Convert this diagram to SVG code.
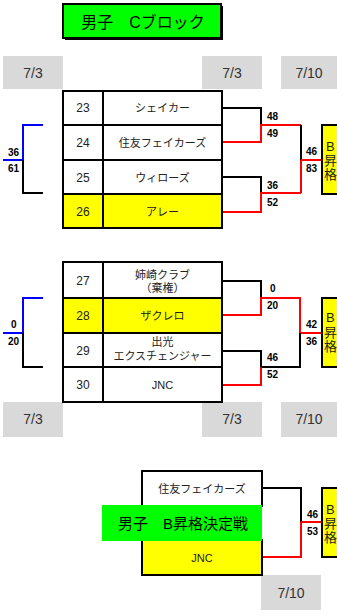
<svg xmlns="http://www.w3.org/2000/svg" width="337" height="616" viewBox="0 0 337 616">
<style>
.cell{fill:#fff;stroke:#000;stroke-width:2}
.win{fill:#ffff00;stroke:#000;stroke-width:2}
.date{fill:#d9d9d9}
.dt{font-family:"Liberation Sans",Arial,sans-serif;font-size:14px;fill:#333;text-anchor:middle}
.num{font-family:"Liberation Sans",Arial,sans-serif;font-size:12px;fill:#222;text-anchor:middle}
.nm{font-family:"Liberation Sans","Noto Sans CJK JP",sans-serif;font-size:11px;fill:#222;text-anchor:middle}
.sc{font-family:"Liberation Sans",Arial,sans-serif;font-size:10px;font-weight:bold;fill:#000}
.bt{font-family:"Liberation Sans","Noto Sans CJK JP",sans-serif;font-size:13px;fill:#222}
.k{fill:none;stroke:#000;stroke-width:2}
.r{fill:none;stroke:#ff0000;stroke-width:2}
.b{fill:none;stroke:#0000ff;stroke-width:2}
</style>
<g id="title">
<rect x="65" y="6" width="158" height="34" fill="#000"/>
<rect x="63" y="4" width="158" height="34" fill="#00ff00" stroke="#000" stroke-width="2"/>
<text x="143" y="28" font-family="Liberation Sans,'Noto Sans CJK JP',sans-serif" font-size="16" fill="#000" text-anchor="middle">男子　Cブロック</text>
</g>
<g id="dates">
<rect class="date" x="3" y="56" width="60" height="33"/><text class="dt" x="33" y="78">7/3</text>
<rect class="date" x="202" y="56" width="60" height="33"/><text class="dt" x="232" y="78">7/3</text>
<rect class="date" x="281" y="56" width="56" height="33"/><text class="dt" x="309" y="78">7/10</text>
<rect class="date" x="3" y="402" width="60" height="35"/><text class="dt" x="33" y="424">7/3</text>
<rect class="date" x="202" y="402" width="60" height="35"/><text class="dt" x="232" y="424">7/3</text>
<rect class="date" x="281" y="402" width="56" height="35"/><text class="dt" x="309" y="424">7/10</text>
<rect class="date" x="261" y="575" width="60" height="35"/><text class="dt" x="291" y="598">7/10</text>
</g>
<g id="connectors">
<path class="b" d="M43 125H23V160H3"/>
<path class="k" d="M23 160V193H43"/>
<path class="k" d="M222 108H261V125"/>
<path class="r" d="M222 142H261V125H301"/>
<path class="k" d="M222 177H261V193"/>
<path class="r" d="M222 212H261V193H301"/>
<path class="k" d="M301 125V160"/>
<path class="r" d="M301 160V193M301 160H322"/>
<path class="b" d="M43 298H23V333H3"/>
<path class="k" d="M23 333V367H43"/>
<path class="k" d="M222 281H261V298"/>
<path class="r" d="M222 315H261V298H300V333H322"/>
<path class="k" d="M222 351H261V367"/>
<path class="r" d="M222 385H261V367"/>
<path class="k" d="M261 367H300V333"/>
<path class="k" d="M262 488H301V522"/>
<path class="r" d="M301 522H321M301 522V557H262"/>
</g>
<g id="scores">
<text class="sc" x="8" y="156">36</text><text class="sc" x="8" y="172">61</text>
<text class="sc" x="267" y="120">48</text><text class="sc" x="267" y="137">49</text>
<text class="sc" x="267" y="189">36</text><text class="sc" x="267" y="206">52</text>
<text class="sc" x="306" y="155">46</text><text class="sc" x="306" y="172">83</text>
<text class="sc" x="11" y="328">0</text><text class="sc" x="8" y="345">20</text>
<text class="sc" x="270" y="292">0</text><text class="sc" x="267" y="309">20</text>
<text class="sc" x="267" y="361">46</text><text class="sc" x="267" y="378">52</text>
<text class="sc" x="306" y="328">42</text><text class="sc" x="306" y="345">36</text>
<text class="sc" x="307" y="518">46</text><text class="sc" x="307" y="535">53</text>
</g>
<g id="t23"><rect class="cell" x="63" y="91" width="40" height="34"/><rect class="cell" x="103" y="91" width="119" height="34"/><text class="num" x="83" y="112">23</text><text class="nm" x="162.5" y="112">シェイカー</text></g>
<g id="t24"><rect class="cell" x="63" y="125" width="40" height="35"/><rect class="cell" x="103" y="125" width="119" height="35"/><text class="num" x="83" y="147">24</text><text class="nm" x="162.5" y="147">住友フェイカーズ</text></g>
<g id="t25"><rect class="cell" x="63" y="160" width="40" height="34"/><rect class="cell" x="103" y="160" width="119" height="34"/><text class="num" x="83" y="182">25</text><text class="nm" x="162.5" y="182">ウィローズ</text></g>
<g id="t26"><rect class="win" x="63" y="194" width="40" height="34"/><rect class="win" x="103" y="194" width="119" height="34"/><text class="num" x="83" y="216">26</text><text class="nm" x="162.5" y="216">アレー</text></g>
<g id="promo1"><rect class="win" x="322" y="125" width="20" height="69"/><text class="bt" x="326" y="151">B</text><text class="bt" x="324" y="165">昇</text><text class="bt" x="324" y="179">格</text></g>
<g id="t27"><rect class="cell" x="63" y="262" width="40" height="36"/><rect class="cell" x="103" y="262" width="119" height="36"/><text class="num" x="83" y="285">27</text><text class="nm" x="162.5" y="279">姉崎クラブ</text><text class="nm" x="162.5" y="292">（棄権）</text></g>
<g id="t28"><rect class="win" x="63" y="298" width="40" height="35"/><rect class="win" x="103" y="298" width="119" height="35"/><text class="num" x="83" y="320">28</text><text class="nm" x="162.5" y="320">ザクレロ</text></g>
<g id="t29"><rect class="cell" x="63" y="333" width="40" height="34"/><rect class="cell" x="103" y="333" width="119" height="34"/><text class="num" x="83" y="355">29</text><text class="nm" x="162.5" y="346">出光</text><text class="nm" x="162.5" y="360">エクスチェンジャー</text></g>
<g id="t30"><rect class="cell" x="63" y="367" width="40" height="35"/><rect class="cell" x="103" y="367" width="119" height="35"/><text class="num" x="83" y="389">30</text><text class="nm" x="162.5" y="389">JNC</text></g>
<g id="promo2"><rect class="win" x="322" y="298" width="20" height="69"/><text class="bt" x="326" y="322">B</text><text class="bt" x="324" y="337">昇</text><text class="bt" x="324" y="351">格</text></g>
<g id="f1"><rect class="cell" x="142" y="471" width="120" height="35"/><text class="nm" x="202" y="493">住友フェイカーズ</text></g>
<g id="f2"><rect class="win" x="142" y="540" width="120" height="35"/><text class="nm" x="202" y="562">JNC</text></g>
<g id="final-title"><rect x="102" y="505" width="160" height="36" fill="#00ff00"/><text x="183" y="529" font-family="Liberation Sans,'Noto Sans CJK JP',sans-serif" font-size="15" fill="#000" text-anchor="middle">男子　B昇格決定戦</text></g>
<g id="promo3"><rect class="win" x="322" y="488" width="20" height="69"/><text class="bt" x="326" y="514">B</text><text class="bt" x="324" y="528">昇</text><text class="bt" x="324" y="542">格</text></g>
</svg>
